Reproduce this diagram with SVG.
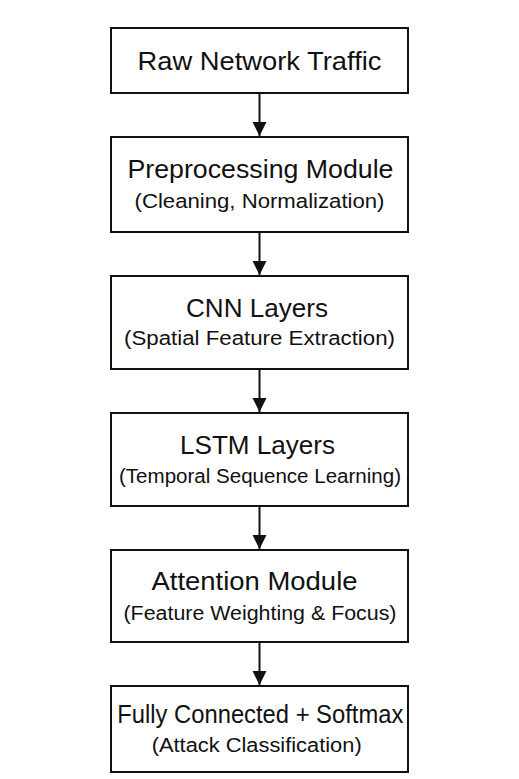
<svg xmlns="http://www.w3.org/2000/svg" width="519" height="779" viewBox="0 0 519 779">
<defs>
<style>
.box{fill:#fff;stroke:#111;stroke-width:2}
.t{font-family:"Liberation Sans",Arial,sans-serif;font-size:25px;fill:#111;text-anchor:middle}
.s{font-family:"Liberation Sans",Arial,sans-serif;font-size:20px;fill:#111;text-anchor:middle}
.c{stroke:#111;stroke-width:2;fill:none;marker-end:url(#ah)}
</style>
<marker id="ah" viewBox="0 0 14 15" refX="14" refY="7" markerWidth="14" markerHeight="15" markerUnits="userSpaceOnUse" orient="auto">
<path d="M0,0 L14,7 L0,14 Z" fill="#111"/>
</marker>
</defs>
<rect width="519" height="779" fill="#fff"/>
<g id="connectors">
<line class="c" x1="259.5" y1="93" x2="259.5" y2="136"/>
<line class="c" x1="259.5" y1="232" x2="259.5" y2="275"/>
<line class="c" x1="259.5" y1="369" x2="259.5" y2="412"/>
<line class="c" x1="259.5" y1="506" x2="259.5" y2="549"/>
<line class="c" x1="259.5" y1="642" x2="259.5" y2="685"/>
</g>
<g id="n1"><rect class="box" x="111" y="28" width="297" height="65"/><text class="t" x="259.5" y="70" textLength="244" lengthAdjust="spacingAndGlyphs">Raw Network Traffic</text></g>
<g id="n2"><rect class="box" x="111" y="137" width="297" height="95"/><text class="t" x="260.5" y="178" textLength="266" lengthAdjust="spacingAndGlyphs">Preprocessing Module</text><text class="s" x="259.5" y="208" textLength="250" lengthAdjust="spacingAndGlyphs">(Cleaning, Normalization)</text></g>
<g id="n3"><rect class="box" x="111" y="276" width="297" height="93"/><text class="t" x="257" y="317" textLength="142" lengthAdjust="spacingAndGlyphs">CNN Layers</text><text class="s" x="259.5" y="345" textLength="271" lengthAdjust="spacingAndGlyphs">(Spatial Feature Extraction)</text></g>
<g id="n4"><rect class="box" x="111" y="413" width="297" height="93"/><text class="t" x="257.5" y="454" textLength="155" lengthAdjust="spacingAndGlyphs">LSTM Layers</text><text class="s" x="260" y="483" textLength="282" lengthAdjust="spacingAndGlyphs">(Temporal Sequence Learning)</text></g>
<g id="n5"><rect class="box" x="111" y="550" width="297" height="92"/><text class="t" x="254.5" y="590" textLength="206" lengthAdjust="spacingAndGlyphs">Attention Module</text><text class="s" x="260" y="620" textLength="273" lengthAdjust="spacingAndGlyphs">(Feature Weighting &amp; Focus)</text></g>
<g id="n6"><rect class="box" x="111" y="686" width="297" height="86"/><text class="t" x="260.3" y="723" textLength="286" lengthAdjust="spacingAndGlyphs">Fully Connected + Softmax</text><text class="s" x="256.7" y="752" textLength="210" lengthAdjust="spacingAndGlyphs">(Attack Classification)</text></g>
</svg>
